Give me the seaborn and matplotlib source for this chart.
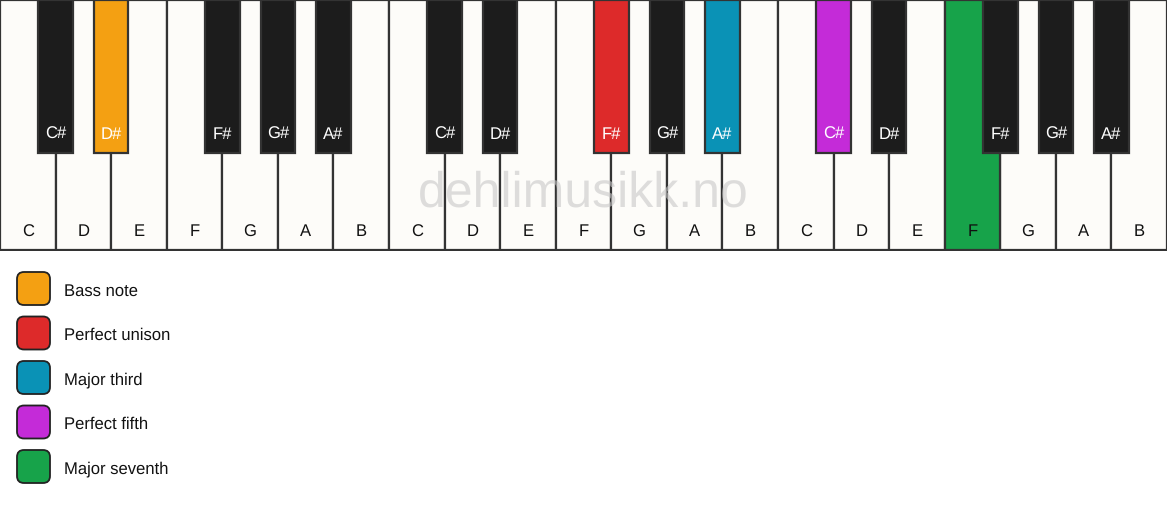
import matplotlib
matplotlib.use("Agg")
import matplotlib.pyplot as plt
from matplotlib.patches import FancyBboxPatch
import seaborn as sns
import pandas as pd

# keyboard data: three octaves C..B
white_notes = ["C", "D", "E", "F", "G", "A", "B"] * 3
# black keys sit after these white key indices within an octave
black_after = [0, 1, 3, 4, 5]
black_names = ["C#", "D#", "F#", "G#", "A#"]

# highlighted keys: (octave, name) -> role
highlights = {
    (0, "D#"): "Bass note",
    (1, "F#"): "Perfect unison",
    (1, "A#"): "Major third",
    (2, "C#"): "Perfect fifth",
    (2, "F"): "Major seventh",
}
roles = ["Bass note", "Perfect unison", "Major third", "Perfect fifth", "Major seventh"]
role_colors = ["#f4a012", "#dd2a2a", "#0a92b6", "#c42bd8", "#17a34a"]

WHITE = "#fdfcf9"
BLACK = "#1c1c1c"
EDGE = "#333333"

sns.set_theme(style="white")
plt.rcParams["font.family"] = ["Liberation Sans", "DejaVu Sans"]
plt.rcParams["text.hinting"] = "no_hinting"

# build key tables
whites = []
for i, name in enumerate(white_notes):
    octave = i // 7
    whites.append({"pos": i, "name": name, "h": 1.0,
                   "role": highlights.get((octave, name), "white")})
blacks = []
for octave in range(3):
    for k, name in zip(black_after, black_names):
        blacks.append({"pos": octave * 7 + k + 0.5, "name": name, "h": 0.612,
                       "role": highlights.get((octave, name), "black")})
df_w = pd.DataFrame(whites)
df_b = pd.DataFrame(blacks)

palette = dict(zip(roles, role_colors))
palette["white"] = WHITE
palette["black"] = BLACK

W, H = 1167, 506
fig = plt.figure(figsize=(W / 100, H / 100), dpi=100)
fig.patch.set_facecolor("white")

kb_h = 252
ax = fig.add_axes([0, 1 - kb_h / H, 1, kb_h / H])
ax.set_facecolor("white")

sns.barplot(data=df_w, x="pos", y="h", hue="role", palette=palette,
            native_scale=True, width=1.0, dodge=False, legend=False,
            saturation=1, edgecolor=EDGE, linewidth=1.6, ax=ax)

sns.barplot(data=df_b, x="pos", y="h", hue="role", palette=palette,
            native_scale=True, width=0.62, dodge=False, legend=False,
            saturation=1, edgecolor=EDGE, linewidth=1.6, ax=ax)

for p in ax.patches:
    p.set_zorder(3 if p.get_width() < 0.9 else 1)

# watermark above the white key fill, below the black keys
ax.text(10, 0.77, "dehlimusikk.no", ha="center", va="center",
        fontsize=36, color="#c8c8c8", alpha=0.6, zorder=2)

for _, r in df_w.iterrows():
    ax.text(r["pos"], 0.942, r["name"], ha="center", va="baseline",
            fontsize=12, color="#111111", zorder=4)
for _, r in df_b.iterrows():
    ax.text(r["pos"], 0.551, r["name"], ha="center", va="baseline",
            fontsize=12, color="white", zorder=4)

ax.set_xlim(-0.5, len(white_notes) - 0.5)
ax.set_ylim(1.004, -0.002)
ax.set_axis_off()

# legend
lax = fig.add_axes([0, 0, 1, 1 - kb_h / H])
lax.set_xlim(0, W)
lax.set_ylim(H, kb_h)
lax.set_axis_off()
for i, (role, col) in enumerate(zip(roles, role_colors)):
    cy = 289.5 + i * 44.5
    box = FancyBboxPatch((17, cy - 16.5), 33, 33,
                         boxstyle="round,pad=0,rounding_size=7",
                         facecolor=col, edgecolor="#222222", linewidth=1.3)
    lax.add_patch(box)
    lax.text(64, cy + 6, role, ha="left", va="baseline", fontsize=12, color="#111111")

fig.savefig("out.png", dpi=100)
